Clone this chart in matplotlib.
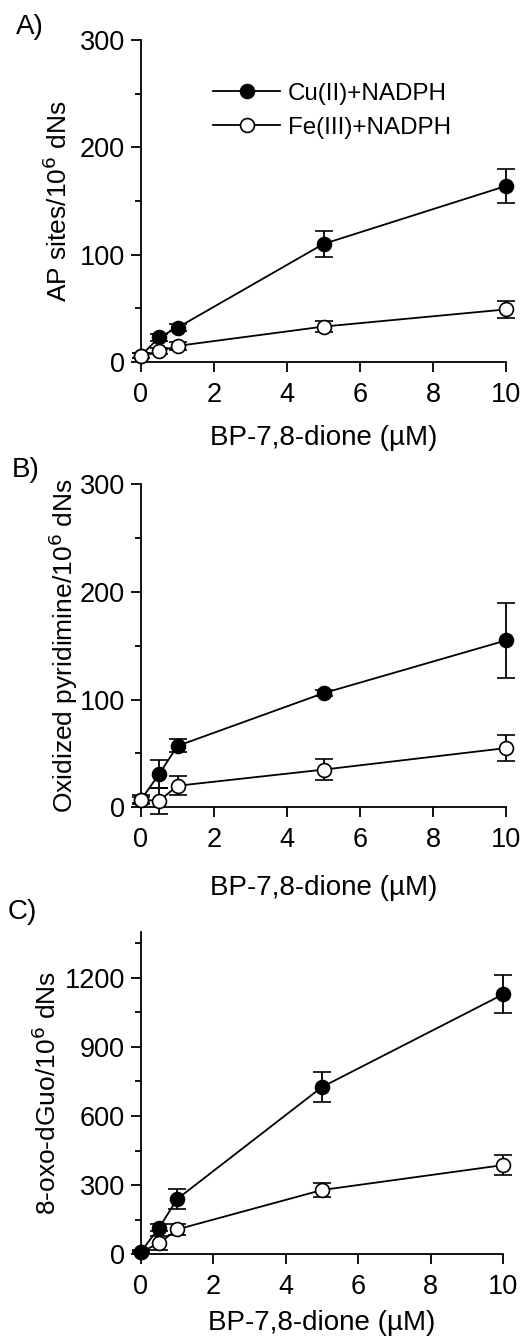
import matplotlib
matplotlib.use("Agg")
import matplotlib.pyplot as plt
from matplotlib.ticker import MultipleLocator
from matplotlib.lines import Line2D

plt.rcParams['font.family'] = ['Liberation Sans', 'DejaVu Sans']

# ---- data ----
conc = [0, 0.5, 1, 5, 10]
series_names = ["Cu(II)+NADPH", "Fe(III)+NADPH"]

# Panel A: AP sites / 10^6 dNs
ap_cu = [6, 23, 32, 110, 164]
ap_cu_err = [2, 3, 3, 12, 16]
ap_fe = [6, 10, 15, 33, 49]
ap_fe_err = [2, 3, 4, 5, 8]

# Panel B: oxidized pyrimidine / 10^6 dNs
ox_cu = [7, 31, 57, 106, 155]
ox_cu_err = [3, 13, 6, 3, 35]
ox_fe = [7, 6, 20, 35, 55]
ox_fe_err = [4, 12, 9, 10, 12]

# Panel C: 8-oxo-dGuo / 10^6 dNs
oxo_cu = [12, 115, 240, 726, 1128]
oxo_cu_err = [5, 15, 45, 65, 82]
oxo_fe = [10, 48, 108, 279, 387]
oxo_fe_err = [5, 30, 25, 32, 43]

panel_letters = ["A)", "B)", "C)"]
ylabels = ["AP sites/10$^{6}$ dNs", "Oxidized pyridimine/10$^{6}$ dNs", "8-oxo-dGuo/10$^{6}$ dNs"]
xlabel = "BP-7,8-dione (\u00b5M)"

W, H = 524, 1343
fig = plt.figure(figsize=(W / 100, H / 100), dpi=100)

def fx(px):
    return px / W

def fy(py):
    return 1 - py / H

# axes boxes in pixels: left, right, top, bottom
boxes = [(141, 506, 40, 362), (141, 506, 484.3, 807.3), (141, 503, 931.7, 1254.3)]
ylims = [(0, 300), (0, 300), (0, 1400)]
ymaj = [100, 100, 300]
ymin = [50, 50, 150]
ylab_x = [58, 63, 47]
xlab_y = [438, 888, 1323]
letter_pos = [(16, 27), (12, 470), (8, 912)]
cu_top = [False, False, True]

data = [
    (ap_cu, ap_cu_err, ap_fe, ap_fe_err),
    (ox_cu, ox_cu_err, ox_fe, ox_fe_err),
    (oxo_cu, oxo_cu_err, oxo_fe, oxo_fe_err),
]

LW = 1.3
MS = 10
for i in range(3):
    l, r, t, b = boxes[i]
    ax = fig.add_axes([fx(l), fy(b), (r - l) / W, (b - t) / H])
    cu, cue, fe, fee = data[i]
    zc, zf = (4, 3) if cu_top[i] else (3, 4)
    ax.errorbar(conc, cu, yerr=cue, color='black', lw=LW, marker='o', ms=MS,
                mfc='black', mec='black', mew=1.2, capsize=6.5, capthick=LW,
                elinewidth=LW, zorder=zc, clip_on=False)
    ax.errorbar(conc, fe, yerr=fee, color='black', lw=LW, marker='o', ms=MS,
                mfc='white', mec='black', mew=1.2, capsize=6.5, capthick=LW,
                elinewidth=LW, zorder=zf, clip_on=False)
    ax.set_xlim(0, 10)
    ax.set_ylim(*ylims[i])
    ax.xaxis.set_major_locator(MultipleLocator(2))
    ax.yaxis.set_major_locator(MultipleLocator(ymaj[i]))
    ax.yaxis.set_minor_locator(MultipleLocator(ymin[i]))
    for s in ['top', 'right']:
        ax.spines[s].set_visible(False)
    for s in ['left', 'bottom']:
        ax.spines[s].set_linewidth(LW)
    ax.tick_params(axis='both', which='major', direction='out', length=7.5, width=LW,
                   labelsize=19.5, pad=4)
    ax.tick_params(axis='y', which='minor', direction='out', length=4.5, width=LW)
    ax.tick_params(axis='x', which='major', pad=7)
    ax.set_ylabel(ylabels[i], fontsize=19)
    ax.yaxis.set_label_coords((ylab_x[i] - l) / (r - l), 0.5)
    ax.yaxis.label.set_va('center')
    ax.set_xlabel(xlabel, fontsize=20)
    ax.xaxis.set_label_coords(0.5, (b - xlab_y[i]) / (b - t))
    ax.xaxis.label.set_va('center')
    fig.text(fx(letter_pos[i][0]), fy(letter_pos[i][1]), panel_letters[i],
             fontsize=20, ha='left', va='center')
    if i == 0:
        handles = [
            Line2D([], [], color='black', lw=LW, marker='o', ms=MS, mfc='black', mec='black', mew=1.2),
            Line2D([], [], color='black', lw=LW, marker='o', ms=MS, mfc='white', mec='black', mew=1.2),
        ]
        ax.legend(handles, series_names, loc='upper left',
                  bbox_to_anchor=((203 - l) / (r - l), (b - 73) / (b - t)),
                  frameon=False, fontsize=17.4, handlelength=2.8, handletextpad=0.3,
                  labelspacing=0.5, borderaxespad=0, numpoints=1)

fig.savefig("out.png", dpi=100)
